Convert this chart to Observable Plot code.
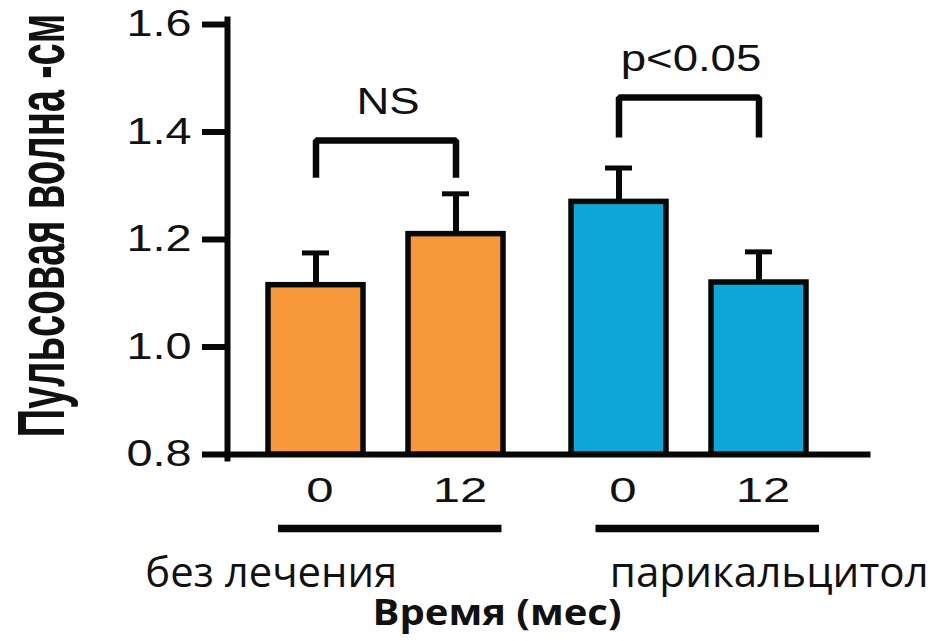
<!DOCTYPE html>
<html><head><meta charset="utf-8">
<script src="https://cdn.jsdelivr.net/npm/d3@7"></script>
<script src="https://cdn.jsdelivr.net/npm/@observablehq/plot@0.6"></script>
<style>html,body{margin:0;padding:0;background:#fff;}</style>
</head><body><div id="chart"></div>
<script>
// ---- data ----
const groups = ["без лечения", "парикальцитол"];
const months = ["0", "12"];
const meanValues = [1.115, 1.21, 1.27, 1.12];
const errorValues = [0.06, 0.075, 0.063, 0.057];
const yTicks = [0.8, 1.0, 1.2, 1.4, 1.6];
const sigLabels = ["NS", "p<0.05"];
const bracketTop = [1.384, 1.464];
const bracketFoot = [1.315, 1.39];
const groupColors = ["#f7993a", "#0ea8d8"];
const yTitle = "Пульсовая волна -см";
const xTitle = "Время (мес)";

const yMin = yTicks[0], yMax = yTicks[yTicks.length - 1];
const INK = "#060806";

const rows = [];
groups.forEach((g, gi) => months.forEach((m, mi) => {
  const k = gi * months.length + mi;
  rows.push({group: g, month: m, mean: meanValues[k], err: errorValues[k]});
}));
const brackets = [];
groups.forEach((g, gi) => {
  brackets.push({group: g, month: months[0], y: bracketFoot[gi]});
  brackets.push({group: g, month: months[0], y: bracketTop[gi]});
  brackets.push({group: g, month: months[1], y: bracketTop[gi]});
  brackets.push({group: g, month: months[1], y: bracketFoot[gi]});
});
const sigRows = groups.map((g, gi) => ({group: g, month: months[0], y: bracketTop[gi], label: sigLabels[gi]}));

const lineInsets = [[51, 28.5], [65.5, 14]];
const labelDx = [-107.75, 87.25];

const groupMarks = groups.flatMap((g, gi) => [
  Plot.ruleY([{group: g, y: yMin}], {fx: "group", y: "y", dy: 74, stroke: INK, strokeWidth: 7.5,
    insetLeft: lineInsets[gi][0], insetRight: lineInsets[gi][1]}),
  Plot.text([{group: g}], {fx: "group", frameAnchor: "bottom", lineAnchor: "middle", text: "group", dx: labelDx[gi], dy: 119.5,
    fontFamily: "Open Sans", fontSize: 42, fill: "#111"})
]);

const svg = Plot.plot({
  width: 933, height: 641,
  marginTop: 24, marginBottom: 187, marginLeft: 227, marginRight: 65,
  style: {background: "#fff", color: "#111", fontFamily: "'Liberation Sans', Arial, sans-serif", fontSize: "36px", overflow: "visible"},
  fx: {domain: groups, paddingInner: 0, paddingOuter: 0.056, align: 0, axis: null, label: null},
  x: {domain: months, paddingInner: 0.319, paddingOuter: 0.236, align: 0.604, axis: null, label: null},
  y: {domain: [yMin, yMax], axis: null},
  color: {domain: groups, range: groupColors},
  marks: [
    Plot.frame({anchor: "bottom", facet: "super", stroke: INK, strokeWidth: 6, insetRight: -34}),
    Plot.frame({anchor: "left", facet: "super", stroke: INK, strokeWidth: 6, insetTop: -5, insetBottom: -4}),
    Plot.barY(rows, {fx: "group", x: "month", y1: yMin, y2: "mean", fill: "group", stroke: INK, strokeWidth: 5.5}),
    Plot.ruleX(rows, {fx: "group", x: "month", y1: "mean", y2: d => d.mean + d.err, stroke: INK, strokeWidth: 6}),
    Plot.tickY(rows, {fx: "group", x: "month", y: d => d.mean + d.err, stroke: INK, strokeWidth: 5, insetLeft: 34, insetRight: 34}),
    Plot.line(brackets, {fx: "group", x: "month", y: "y", z: "group", stroke: INK, strokeWidth: 6.5, strokeLinejoin: "miter", strokeLinecap: "butt"}),
    Plot.text(sigRows, {fx: "group", x: "month", y: "y", text: "label", dx: 72, dy: -38, fontSize: 37, fill: "#111"}),
    Plot.axisY(yTicks, {tickSize: 25, tickPadding: 11, tickFormat: d3.format(".1f"), stroke: INK, strokeWidth: 6, fontSize: 36, fill: "#111", label: null}),
    Plot.axisX({tickSize: 0, tickPadding: 23, fontSize: 35, fill: "#111", dx: 4, label: null}),
    ...groupMarks,
    Plot.text([xTitle], {facet: "super", frameAnchor: "bottom-left", lineAnchor: "middle", textAnchor: "start", text: d => d, dx: 145, dy: 158.8,
      fontFamily: "Open Sans", fontWeight: "bold", fontSize: 35, fill: "#111"}),
    Plot.text([yTitle], {facet: "super", frameAnchor: "left", lineAnchor: "middle", textAnchor: "start", text: d => d, rotate: -90, dx: -185, dy: 198,
      fontFamily: "'Liberation Sans', Arial, sans-serif", fontWeight: "bold", fontSize: 40, fill: "#111"})
  ]
});
document.getElementById("chart").append(svg);

// horizontal stretch of text glyphs (the reference's lettering is distorted)
function adjust(t, len) {
  t.setAttribute("textLength", (+len).toFixed(1));
  t.setAttribute("lengthAdjust", "spacingAndGlyphs");
}
function stretchBy(list, f) { list.forEach(t => adjust(t, t.getComputedTextLength() * f)); }
function byContent(strs) { return [...svg.querySelectorAll("text")].filter(t => strs.includes(t.textContent)); }

stretchBy([...svg.querySelectorAll('g[aria-label="y-axis tick label"] text')], 1.3);
stretchBy([...svg.querySelectorAll('g[aria-label="x-axis tick label"] text')], 1.4);
stretchBy(byContent(sigLabels), 1.23);
byContent([yTitle]).forEach(t => {
  adjust(t, 424);
  // tall, condensed lettering: stretch glyph height in the rotated frame
  t.setAttribute("transform", (t.getAttribute("transform") || "") + " scale(1,1.65)");
});
byContent([xTitle]).forEach(t => adjust(t, 249));
byContent([groups[0]]).forEach(t => adjust(t, 252));
byContent([groups[1]]).forEach(t => adjust(t, 319));
</script>
</body></html>
